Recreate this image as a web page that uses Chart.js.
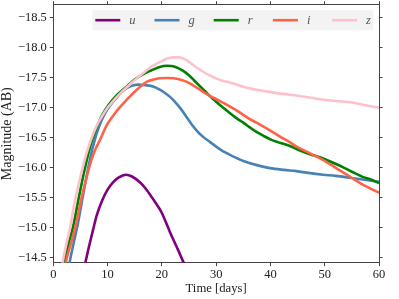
<!DOCTYPE html>
<html><head><meta charset="utf-8">
<script src="https://cdn.jsdelivr.net/npm/chart.js@4.4.0/dist/chart.umd.min.js"></script>
<style>html,body{margin:0;padding:0;background:#fff;}canvas{display:block;}</style>
</head><body>
<canvas id="c" width="399" height="299"></canvas>
<script>
const bandNames = ['u', 'g', 'r', 'i', 'z'];
const bandColors = ['#800080', '#4682b4', '#008000', '#ff6347', '#ffc0cb'];
const xTicks = [0, 10, 20, 30, 40, 50, 60];
const yTicks = [-18.5, -18.0, -17.5, -17.0, -16.5, -16.0, -15.5, -15.0, -14.5];

const uDays = [5.6, 5.9, 6.5, 7.3, 8.0, 9.0, 10.0, 11.0, 12.0, 13.4, 14.5, 16.0, 17.0, 18.4, 19.5, 20.0, 21.5, 23.0, 24.3];
const uMag = [-14.3, -14.41, -14.65, -14.95, -15.2, -15.45, -15.63, -15.75, -15.83, -15.88, -15.85, -15.75, -15.65, -15.47, -15.32, -15.24, -14.92, -14.62, -14.35];

const gDays = [2.8, 3.0, 3.7, 4.5, 5.4, 6.4, 7.3, 8.4, 9.5, 10.5, 11.6, 12.6, 13.6, 14.6, 15.7, 17.0, 18.5, 19.6, 20.5, 21.5, 22.5, 23.5, 24.5, 25.5, 26.5, 27.5, 28.8, 30.0, 31.5, 33.0, 35.0, 37.5, 39.9, 42.5, 44.8, 47.0, 49.7, 52.0, 54.6, 57.0, 60.0];
const gMag = [-14.3, -14.41, -14.72, -15.05, -15.5, -15.98, -16.35, -16.68, -16.9, -17.04, -17.16, -17.26, -17.33, -17.37, -17.385, -17.375, -17.35, -17.3, -17.25, -17.18, -17.09, -16.98, -16.85, -16.72, -16.61, -16.52, -16.43, -16.35, -16.26, -16.19, -16.11, -16.04, -15.99, -15.96, -15.94, -15.91, -15.88, -15.86, -15.83, -15.8, -15.76];

const rDays = [1.8, 2.0, 2.8, 3.7, 4.7, 5.8, 7.0, 8.2, 8.9, 10.2, 11.5, 12.6, 13.5, 15.0, 16.6, 18.0, 19.6, 21.0, 22.1, 23.0, 24.0, 25.0, 26.0, 27.0, 28.0, 29.0, 30.0, 31.3, 32.5, 33.8, 35.0, 36.2, 37.5, 38.7, 40.0, 41.5, 43.6, 45.0, 47.0, 49.1, 51.0, 52.8, 55.0, 57.1, 58.5, 60.0];
const rMag = [-14.3, -14.41, -14.72, -15.03, -15.5, -15.98, -16.42, -16.72, -16.86, -17.05, -17.19, -17.28, -17.35, -17.47, -17.56, -17.62, -17.68, -17.7, -17.69, -17.66, -17.61, -17.54, -17.45, -17.36, -17.27, -17.18, -17.1, -17.0, -16.91, -16.82, -16.75, -16.67, -16.59, -16.53, -16.47, -16.42, -16.36, -16.3, -16.23, -16.17, -16.1, -16.03, -15.93, -15.84, -15.8, -15.74];

const iDays = [2.1, 2.3, 3.2, 4.2, 5.1, 5.9, 6.6, 7.5, 8.7, 9.8, 10.9, 12.2, 13.4, 14.8, 16.0, 17.2, 18.5, 19.6, 21.0, 22.1, 23.3, 24.6, 25.8, 27.0, 28.2, 29.4, 30.7, 31.9, 33.8, 36.2, 38.0, 39.9, 41.7, 43.6, 45.0, 46.6, 49.0, 50.9, 53.0, 54.6, 57.1, 60.0];
const iMag = [-14.3, -14.41, -14.72, -15.05, -15.45, -15.75, -16.0, -16.25, -16.48, -16.7, -16.85, -17.0, -17.12, -17.25, -17.35, -17.43, -17.47, -17.49, -17.495, -17.49, -17.47, -17.43, -17.37, -17.3, -17.23, -17.17, -17.11, -17.05, -16.95, -16.81, -16.72, -16.62, -16.52, -16.42, -16.34, -16.27, -16.16, -16.06, -15.94, -15.85, -15.71, -15.58];

const zDays = [1.5, 1.7, 2.4, 3.1, 4.0, 5.0, 6.0, 7.0, 8.0, 9.0, 10.1, 11.5, 12.8, 14.5, 15.5, 16.6, 18.0, 19.6, 21.0, 22.2, 23.2, 24.2, 25.2, 26.4, 27.6, 28.8, 30.5, 32.5, 34.0, 36.2, 38.0, 40.0, 42.3, 45.0, 48.5, 51.0, 54.6, 57.0, 60.0];
const zMag = [-14.3, -14.41, -14.72, -15.0, -15.45, -15.85, -16.2, -16.48, -16.7, -16.86, -17.01, -17.16, -17.28, -17.42, -17.5, -17.58, -17.68, -17.76, -17.82, -17.84, -17.84, -17.81, -17.75, -17.67, -17.6, -17.54, -17.47, -17.42, -17.38, -17.32, -17.29, -17.26, -17.23, -17.2, -17.15, -17.12, -17.09, -17.05, -17.0];

const seriesDays = [uDays, gDays, rDays, iDays, zDays];
const seriesMag = [uMag, gMag, rMag, iMag, zMag];

const FONT = "'Liberation Serif', 'Times New Roman', serif";
const AXIS_COLOR = '#444';

const datasets = bandNames.map((name, k) => ({
  label: name,
  data: seriesDays[k].map((d, j) => ({ x: d, y: seriesMag[k][j] })),
  borderColor: bandColors[k],
  backgroundColor: bandColors[k],
  borderWidth: 2.6,
  pointRadius: 0,
  cubicInterpolationMode: 'monotone',
  clip: 0,
  order: bandNames.length - k
}));

function fixTicks(arr) {
  return function (scale) { scale.ticks = arr.map(v => ({ value: v })); };
}
function zeroPad(scale) {
  scale.paddingTop = 0; scale.paddingBottom = 0; scale.paddingLeft = 0; scale.paddingRight = 0;
}
const tickGrid = { display: true, drawOnChartArea: false, drawTicks: true, tickLength: 3.5, tickColor: AXIS_COLOR, tickWidth: 1 };
const border = { display: true, color: AXIS_COLOR, width: 1 };

const legendPlugin = {
  id: 'inlineLegend',
  afterDraw(chart) {
    const ctx = chart.ctx;
    const ca = chart.chartArea;
    const bx = ca.left + 39, by = ca.top + 5.5, bw = 281, bh = 20;
    ctx.save();
    ctx.fillStyle = 'rgba(242,242,242,0.9)';
    ctx.fillRect(bx, by, bw, bh);
    ctx.font = 'italic 12.5px ' + FONT;
    ctx.textBaseline = 'middle';
    ctx.textAlign = 'left';
    chart.data.datasets.forEach((ds, k) => {
      const x0 = bx + 3 + k * 59.2;
      const y0 = by + bh / 2;
      ctx.strokeStyle = ds.borderColor;
      ctx.lineWidth = 2.6;
      ctx.beginPath();
      ctx.moveTo(x0, y0);
      ctx.lineTo(x0 + 25, y0);
      ctx.stroke();
      ctx.fillStyle = '#555';
      ctx.fillText(ds.label, x0 + 34, y0 + 0.5);
    });
    ctx.restore();
  }
};

new Chart(document.getElementById('c'), {
  type: 'line',
  data: { datasets },
  options: {
    responsive: false,
    animation: false,
    devicePixelRatio: 1,
    layout: { padding: 0 },
    plugins: { legend: { display: false }, tooltip: { enabled: false } },
    scales: {
      x: {
        type: 'linear', position: 'bottom', min: 0, max: 60,
        afterBuildTicks: fixTicks(xTicks),
        afterFit(s) { s.height = 36.3; zeroPad(s); },
        grid: tickGrid, border,
        ticks: { color: '#222', font: { family: FONT, size: 12.5 }, padding: 1, maxRotation: 0, autoSkip: false },
        title: { display: true, text: 'Time [days]', color: '#222', font: { family: FONT, size: 12.7 }, padding: { top: 0, bottom: 2.4 } }
      },
      x2: {
        type: 'linear', position: 'top', min: 0, max: 60,
        afterBuildTicks: fixTicks(xTicks),
        afterFit(s) { s.height = 4.7; zeroPad(s); },
        grid: tickGrid, border,
        ticks: { display: false }
      },
      y: {
        type: 'linear', position: 'left', reverse: true, min: -18.72, max: -14.41,
        afterBuildTicks: fixTicks(yTicks),
        afterFit(s) { s.width = 53.3; zeroPad(s); },
        grid: tickGrid, border,
        ticks: {
          color: '#222', font: { family: FONT, size: 12.5 }, padding: 3,
          callback: v => '\u2212' + Math.abs(v).toFixed(1)
        },
        title: { display: true, text: 'Magnitude (AB)', color: '#222', font: { family: FONT, size: 14, lineHeight: 1 }, padding: { top: 0.5, bottom: 0 } }
      },
      y2: {
        type: 'linear', position: 'right', reverse: true, min: -18.72, max: -14.41,
        afterBuildTicks: fixTicks(yTicks),
        afterFit(s) { s.width = 20; zeroPad(s); },
        grid: tickGrid, border,
        ticks: { display: false }
      }
    }
  },
  plugins: [legendPlugin]
});
</script>
</body></html>
